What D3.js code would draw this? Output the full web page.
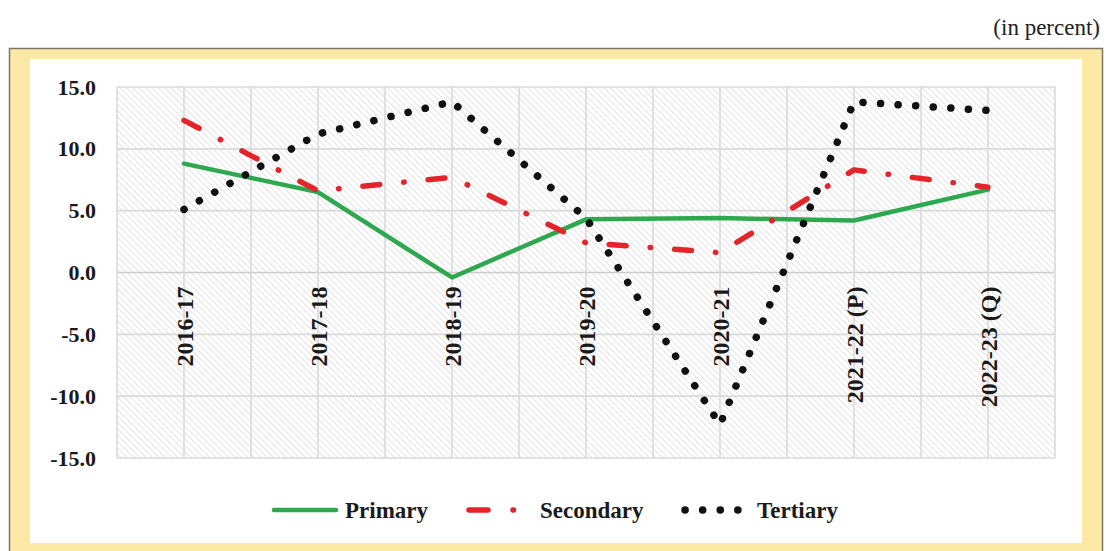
<!DOCTYPE html>
<html>
<head>
<meta charset="utf-8">
<script src="https://cdn.jsdelivr.net/npm/d3@7"></script>
<style>
  html, body { margin: 0; padding: 0; background: #ffffff; }
  svg { display: block; }
  text { font-family: "Liberation Serif", "Times New Roman", serif; }
</style>
</head>
<body>
<script>
// Sector-wise growth rates (in percent)
const categories = ["2016-17", "2017-18", "2018-19", "2019-20", "2020-21", "2021-22 (P)", "2022-23 (Q)"];
const primary    = [8.8, 6.5, -0.4, 4.3, 4.4, 4.2, 6.7];
const secondary  = [12.3, 6.6, 7.7, 2.4, 1.6, 8.3, 6.9];
const tertiary   = [5.1, 11.2, 13.8, 4.4, -12.3, 13.8, 13.1];
const yTicks     = [15, 10, 5, 0, -5, -10, -15];
const seriesNames = ["Primary", "Secondary", "Tertiary"];

const W = 1106, H = 551;
const svg = d3.select("body").append("svg").attr("width", W).attr("height", H);
const defs = svg.append("defs");

// light diagonal hatching for the plot area
const hatch = defs.append("pattern")
  .attr("id", "hatch").attr("patternUnits", "userSpaceOnUse")
  .attr("width", 4.5).attr("height", 4.5)
  .attr("patternTransform", "rotate(-45)");
hatch.append("rect").attr("width", 4.5).attr("height", 4.5).attr("fill", "#ffffff");
hatch.append("line").attr("x1", 0).attr("y1", 0).attr("x2", 0).attr("y2", 4.5)
  .attr("stroke", "#dedede").attr("stroke-width", 1.6);

// outer frame: yellow band with a thin dark border and a white panel
svg.append("rect").attr("x", 9.5).attr("y", 48.5).attr("width", 1093).attr("height", 510)
  .attr("fill", "#fde9a6").attr("stroke", "#7d7566").attr("stroke-width", 1.5);
svg.append("rect").attr("x", 30).attr("y", 59).attr("width", 1052).attr("height", 484)
  .attr("fill", "#ffffff");

// unit note
svg.append("text").attr("x", 1100).attr("y", 35).attr("text-anchor", "end")
  .attr("font-size", 23).attr("fill", "#222").text("(in percent)");

const plot = { left: 117, right: 1055, top: 87, bottom: 458 };

const x = d3.scalePoint().domain(categories).range([plot.left, plot.right]).padding(0.5);
const y = d3.scaleLinear().domain([-15, 15]).range([plot.bottom, plot.top]);

svg.append("rect").attr("x", plot.left).attr("y", plot.top)
  .attr("width", plot.right - plot.left).attr("height", plot.bottom - plot.top)
  .attr("fill", "url(#hatch)");

// gridlines: horizontal at each tick, vertical at every half category step
const grid = svg.append("g").attr("stroke", "#dadada").attr("stroke-width", 1.6);
grid.selectAll("line.h").data(yTicks).join("line").attr("class", "h")
  .attr("x1", plot.left).attr("x2", plot.right)
  .attr("y1", d => y(d)).attr("y2", d => y(d))
  .attr("stroke", d => d === 0 ? "#cccccc" : "#dadada");
const half = x.step() / 2;
const vLines = d3.range(0, categories.length * 2 + 1).map(i => plot.left + i * half);
grid.selectAll("line.v").data(vLines).join("line").attr("class", "v")
  .attr("x1", d => d).attr("x2", d => d)
  .attr("y1", plot.top).attr("y2", plot.bottom);

// y axis labels (plain hyphen for negatives)
const fmt = d => d3.format(".1f")(d).replace("\u2212", "-");
const yAxis = d3.axisLeft(y).tickValues(yTicks).tickFormat(fmt).tickSize(0).tickPadding(0);
const gy = svg.append("g").attr("transform", "translate(96,0)").call(yAxis);
gy.select(".domain").remove();
gy.selectAll("text").attr("font-family", "Liberation Serif, serif").attr("font-weight", "bold")
  .attr("font-size", 22).attr("fill", "#1a1a1a");

// category labels, rotated, just below the zero line
const xAxis = d3.axisBottom(x).tickSize(0).tickPadding(0);
const gx = svg.append("g").attr("transform", `translate(0,${y(0)})`).call(xAxis);
gx.select(".domain").remove();
gx.selectAll("text")
  .attr("font-family", "Liberation Serif, serif").attr("font-weight", "bold")
  .attr("font-size", 24).attr("fill", "#1a1a1a")
  .attr("text-anchor", "end")
  .attr("transform", "translate(0,14) rotate(-90)")
  .attr("x", 0).attr("y", 0).attr("dy", "0.35em");

const line = d3.line().x((d, i) => x(categories[i])).y(d => y(d));

const styles = {
  Primary:   { data: primary,   color: "#2ea84f", width: 4.5, dash: null, cap: "round" },
  Secondary: { data: secondary, color: "#e3242b", width: 5.5, dash: "17 24 0.5 24", cap: "round" },
  Tertiary:  { data: tertiary,  color: "#111111", width: 7.5, dash: "0.1 17.5", cap: "round" }
};

seriesNames.forEach(name => {
  const s = styles[name];
  svg.append("path").datum(s.data)
    .attr("d", line)
    .attr("fill", "none")
    .attr("stroke", s.color)
    .attr("stroke-width", s.width)
    .attr("stroke-linecap", s.cap)
    .attr("stroke-linejoin", "round")
    .attr("stroke-dasharray", s.dash);
});

// legend
const legend = svg.append("g");
const legendItems = [
  { name: "Primary",   x0: 274, x1: 336, tx: 345 },
  { name: "Secondary", x0: 469, x1: 520, tx: 540 },
  { name: "Tertiary",  x0: 685, x1: 740, tx: 757 }
];
const ly = 510;
legendItems.forEach(it => {
  const s = styles[it.name];
  legend.append("line")
    .attr("x1", it.x0).attr("x2", it.x1).attr("y1", ly).attr("y2", ly)
    .attr("stroke", s.color).attr("stroke-width", s.width)
    .attr("stroke-linecap", s.cap)
    .attr("stroke-dasharray", it.name === "Secondary" ? "19 25 0.5 40" : s.dash);
  legend.append("text").attr("x", it.tx).attr("y", ly).attr("dy", "0.35em")
    .attr("font-weight", "bold").attr("font-size", 23).attr("fill", "#1a1a1a")
    .text(it.name);
});
</script>
</body>
</html>
